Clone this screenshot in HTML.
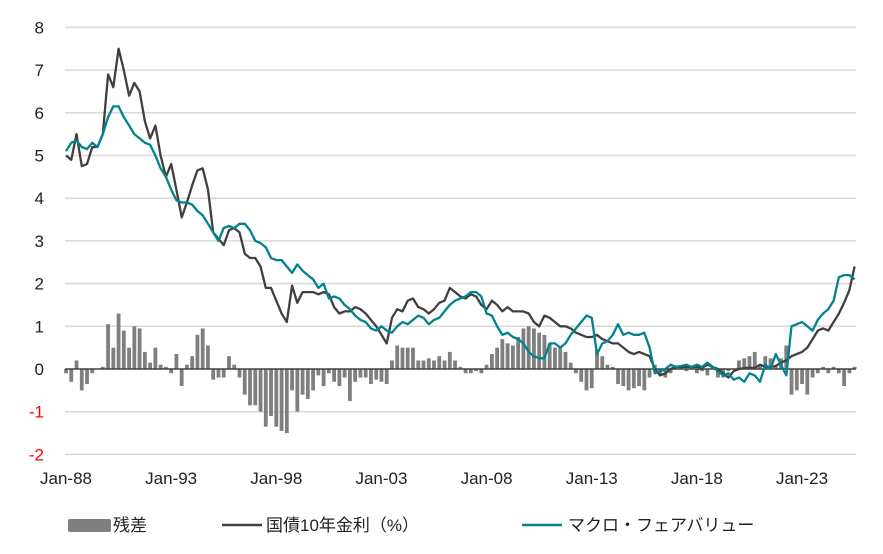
<!DOCTYPE html>
<html><head><meta charset="utf-8"><style>
body{margin:0;background:#fff;}
svg{display:block;font-family:"Liberation Sans","Noto Sans CJK JP",sans-serif;}
</style></head><body>
<svg id="chart" width="883" height="554" viewBox="0 0 883 554" xmlns="http://www.w3.org/2000/svg">
<g id="grid"></g>
<g id="ylabels"></g>
<g id="bars"></g>
<line id="zero" stroke="#404040" stroke-width="1.5"/>
<path id="bond" fill="none" stroke="#404040" stroke-width="2.3" stroke-linejoin="round"/>
<path id="macro" fill="none" stroke="#00838f" stroke-width="2.3" stroke-linejoin="round"/>
<g id="xlabels"></g>
<g>
<rect x="68" y="519" width="43" height="13" rx="2" fill="#7f7f7f"/>
<text x="113" y="531" font-size="17" fill="#222">残差</text>
<line x1="222" y1="525" x2="262" y2="525" stroke="#404040" stroke-width="2.5"/>
<text x="266" y="531" font-size="17" fill="#222">国債10年金利（%）</text>
<line x1="522" y1="525" x2="562" y2="525" stroke="#00838f" stroke-width="2.5"/>
<text x="568" y="531" font-size="17" fill="#222">マクロ・フェアバリュー</text>
</g>
</svg>
<script>
const startYear = 1988;
const yTicks = [8,7,6,5,4,3,2,1,0,-1,-2];
const xTickLabels = ["Jan-88","Jan-93","Jan-98","Jan-03","Jan-08","Jan-13","Jan-18","Jan-23"];
const xTickYears = [1988,1993,1998,2003,2008,2013,2018,2023];
const bond = [
5.0,4.9,5.5,4.75, 4.8,5.2,5.2,5.5, 6.9,6.6,7.5,7.0, 6.4,6.7,6.5,5.8,
5.4,5.7,5.0,4.5, 4.8,4.2,3.55,3.9, 4.3,4.65,4.7,4.2, 3.2,3.05,2.9,3.25,
3.3,3.2,2.7,2.6, 2.6,2.4,1.9,1.9, 1.6,1.3,1.1,1.95, 1.55,1.8,1.8,1.8,
1.75,1.8,1.75,1.45, 1.3,1.35,1.35,1.45, 1.4,1.3,1.15,1.0, 0.8,0.6,1.2,1.4,
1.35,1.6,1.65,1.45, 1.4,1.3,1.4,1.55, 1.6,1.9,1.8,1.7, 1.65,1.75,1.7,1.5,
1.4,1.6,1.5,1.35, 1.45,1.35,1.35,1.35, 1.3,1.1,1.0,1.25, 1.2,1.1,1.0,1.0,
0.95,0.85,0.8,0.75, 0.75,0.8,0.7,0.65, 0.6,0.6,0.5,0.4, 0.35,0.4,0.35,0.3,
0.0,-0.15,-0.1,0.0, 0.05,0.05,0.05,0.05, 0.05,0.03,0.1,0.05, 0.0,-0.1,-0.2,-0.05,
0.0,0.02,0.03,0.02, 0.1,0.05,0.05,0.07, 0.15,0.2,0.3,0.35, 0.4,0.5,0.7,0.9,
0.95,0.9,1.1,1.3, 1.55,1.85,2.4];
const macro = [
5.1,5.3,5.35,5.2, 5.15,5.3,5.2,5.5, 5.9,6.15,6.15,5.9, 5.7,5.5,5.4,5.3,
5.25,5.0,4.7,4.5, 4.2,3.95,3.9,3.9, 3.85,3.7,3.6,3.4, 3.2,3.0,3.3,3.35,
3.3,3.4,3.4,3.25, 3.0,2.95,2.85,2.6, 2.55,2.55,2.4,2.25, 2.45,2.3,2.2,2.1,
1.9,2.0,1.65,1.7, 1.65,1.5,1.4,1.25, 1.15,1.1,0.95,0.9, 1.0,0.9,0.85,1.0,
1.1,1.05,1.15,1.25, 1.2,1.05,1.15,1.2, 1.35,1.5,1.6,1.65, 1.7,1.8,1.8,1.7,
1.3,1.25,1.0,0.8, 0.85,0.75,0.7,0.6, 0.4,0.3,0.25,0.25, 0.6,0.6,0.5,0.6,
0.8,0.95,1.1,1.25, 1.2,0.35,0.6,0.65, 0.8,1.05,0.8,0.85, 0.8,0.8,0.85,0.5,
-0.1,-0.05,0.0,0.1, 0.05,0.07,0.1,0.05, 0.1,0.05,0.15,0.05, -0.05,-0.15,-0.1,-0.25,
-0.2,-0.3,-0.1,-0.15, -0.3,0.1,0.0,0.35, 0.1,-0.15,1.0,1.05, 1.1,1.0,0.9,1.15,
1.3,1.4,1.6,2.15, 2.2,2.2,2.1];
const residual = [
-0.1,-0.3,0.2,-0.5, -0.35,-0.1,0.0,0.05, 1.05,0.5,1.3,0.9, 0.5,1.0,0.95,0.4,
0.15,0.5,0.1,0.05, -0.1,0.35,-0.4,0.1, 0.3,0.8,0.95,0.55, -0.25,-0.2,-0.2,0.3,
0.1,-0.2,-0.6,-0.85, -0.85,-1.0,-1.35,-1.1, -1.35,-1.45,-1.5,-0.5, -1.0,-0.6,-0.7,-0.5,
-0.15,-0.4,-0.1,-0.3, -0.4,-0.2,-0.75,-0.3, -0.2,-0.2,-0.35,-0.25, -0.3,-0.35,0.2,0.55,
0.5,0.5,0.5,0.2, 0.2,0.25,0.2,0.3, 0.2,0.4,0.2,0.05, -0.1,-0.1,-0.05,-0.1,
0.1,0.35,0.5,0.7, 0.6,0.55,0.75,0.95, 1.0,0.95,0.85,0.8, 0.6,0.5,0.5,0.4,
0.15,-0.1,-0.3,-0.5, -0.45,0.45,0.3,0.1, 0.05,-0.35,-0.4,-0.5, -0.45,-0.4,-0.5,-0.2,
0.1,-0.15,-0.2,-0.1, 0.05,0.05,-0.05,0.05, -0.1,-0.05,-0.15,0.05, -0.2,-0.2,-0.05,0.0,
0.2,0.25,0.3,0.4, 0.1,0.3,0.25,0.05, 0.25,0.55,-0.6,-0.5, -0.35,-0.6,-0.2,-0.1,
0.05,-0.1,0.05,-0.1, -0.4,-0.1,0.05];

const NS = "http://www.w3.org/2000/svg";
const xL = 66, pxPerYear = 21.03, y0 = 369, pxPerUnit = 42.7;
function xScale(yr){ return xL + (yr - startYear) * pxPerYear; }
function xIdx(i){ return xScale(startYear + i / 4); }
function yScale(v){ return y0 - v * pxPerUnit; }
function mk(tag, parent){ const e = document.createElementNS(NS, tag); document.getElementById(parent).appendChild(e); return e; }

yTicks.forEach(t => {
  if (t !== 0) {
    const l = mk('line', 'grid');
    
    
    l.setAttribute('x1', 65); l.setAttribute('x2', 856);
    l.setAttribute('y1', yScale(t)); l.setAttribute('y2', yScale(t));
    l.setAttribute('stroke', '#d9d9d9'); l.setAttribute('stroke-width', '1.5');
  }
  const tx = mk('text', 'ylabels');
  
  
  tx.setAttribute('x', 44); tx.setAttribute('y', yScale(t) + 6);
  tx.setAttribute('text-anchor', 'end');
  tx.setAttribute('font-size', '17');
  tx.setAttribute('fill', t < 0 ? '#ff0000' : '#222');
  tx.textContent = t;
});
const z = document.getElementById('zero');
z.setAttribute('x1', 65); z.setAttribute('x2', 856);
z.setAttribute('y1', y0); z.setAttribute('y2', y0);

residual.forEach((v, i) => {
  const r = mk('rect', 'bars');
  
  
  const x = xIdx(i);
  r.setAttribute('x', x - 1.9); r.setAttribute('width', 3.8);
  r.setAttribute('y', Math.min(yScale(v), y0)); r.setAttribute('height', Math.abs(yScale(v) - y0));
  r.setAttribute('fill', '#7f7f7f');
});
function pathFor(arr){ return arr.map((v, i) => (i ? 'L' : 'M') + xIdx(i).toFixed(1) + ',' + yScale(v).toFixed(1)).join(''); }
document.getElementById('bond').setAttribute('d', pathFor(bond));
document.getElementById('macro').setAttribute('d', pathFor(macro));

xTickLabels.forEach((lab, i) => {
  const tx = mk('text', 'xlabels');
  
  
  tx.setAttribute('x', xScale(xTickYears[i])); tx.setAttribute('y', 484);
  tx.setAttribute('text-anchor', 'middle'); tx.setAttribute('font-size', '17'); tx.setAttribute('fill', '#222');
  tx.textContent = lab;
});
</script>
</body></html>
